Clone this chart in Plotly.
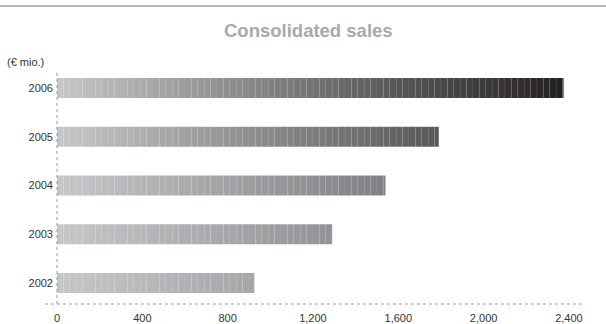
import plotly.graph_objects as go

# Consolidated sales, € millions
years = ["2002", "2003", "2004", "2005", "2006"]
sales = [925, 1290, 1540, 1790, 2375]
x_ticks = [0, 400, 800, 1200, 1600, 2000, 2400]

# gradient styling: every bar fades from a light grey to its own end shade
start_rgb = (198, 199, 201)
end_rgb = [(165, 166, 169), (146, 147, 150), (127, 128, 131), (88, 88, 91), (35, 31, 32)]
STEP = 30  # width of one gradient slice, in data units

FONT = "Liberation Sans, Arial, sans-serif"

fig = go.Figure()

for year, value, end in zip(years, sales, end_rgb):
    bases, widths, colors = [], [], []
    b = 0.0
    while b < value:
        w = min(STEP, value - b)
        t = (b + w / 2) / value
        rgb = tuple(round(s + (e - s) * t) for s, e in zip(start_rgb, end))
        bases.append(b)
        widths.append(w)
        colors.append("rgb(%d,%d,%d)" % rgb)
        b += w
    fig.add_trace(go.Bar(
        y=[year] * len(widths),
        x=widths,
        base=bases,
        orientation="h",
        width=0.41,
        marker=dict(color=colors, line=dict(color="rgba(255,255,255,0.07)", width=0.6)),
        hoverinfo="skip",
        showlegend=False,
    ))

fig.update_layout(
    width=606,
    height=324,
    margin=dict(l=57, r=23, t=73, b=20, autoexpand=False),
    paper_bgcolor="white",
    plot_bgcolor="white",
    barmode="overlay",
    font=dict(family=FONT, size=11, color="#333333"),
    xaxis=dict(
        range=[0, 2466],
        tickvals=x_ticks,
        tickformat=",",
        showgrid=False,
        zeroline=False,
        showline=False,
        ticks="",
        ticklabelstandoff=6,
        automargin=False,
        tickfont=dict(size=11, color="#333333"),
    ),
    yaxis=dict(
        type="category",
        categoryarray=years,
        range=[-0.431, 4.308],
        showgrid=False,
        zeroline=False,
        showline=False,
        ticks="",
        ticklabelstandoff=3,
        automargin=False,
        tickfont=dict(size=11, color="#333333"),
    ),
    shapes=[
        # rule across the top of the page
        dict(type="line", xref="paper", yref="paper", x0=-0.1084, x1=1.0437, y0=1.290, y1=1.290,
             line=dict(color="#a2a2a2", width=1.5)),
        # dotted value axis
        dict(type="line", xref="paper", yref="paper", x0=-0.0228, x1=1.0, y0=0, y1=0,
             line=dict(color="#9a9a9a", width=1, dash="dot")),
        # dotted category axis
        dict(type="line", xref="paper", yref="paper", x0=0, x1=0, y0=0, y1=1,
             line=dict(color="#9a9a9a", width=1, dash="dot")),
    ],
    annotations=[
        dict(text="<b>Consolidated sales</b>", xref="paper", yref="paper",
             x=0.479, y=1.186, xanchor="center", yanchor="middle", showarrow=False,
             font=dict(family=FONT, size=18.5, color="#a8a9ac")),
        dict(text="(€ mio.)", xref="paper", yref="paper",
             x=-0.0989, y=1.0476, xanchor="left", yanchor="middle", showarrow=False,
             font=dict(family=FONT, size=11, color="#333333")),
    ],
)

fig.write_html("out.html")
